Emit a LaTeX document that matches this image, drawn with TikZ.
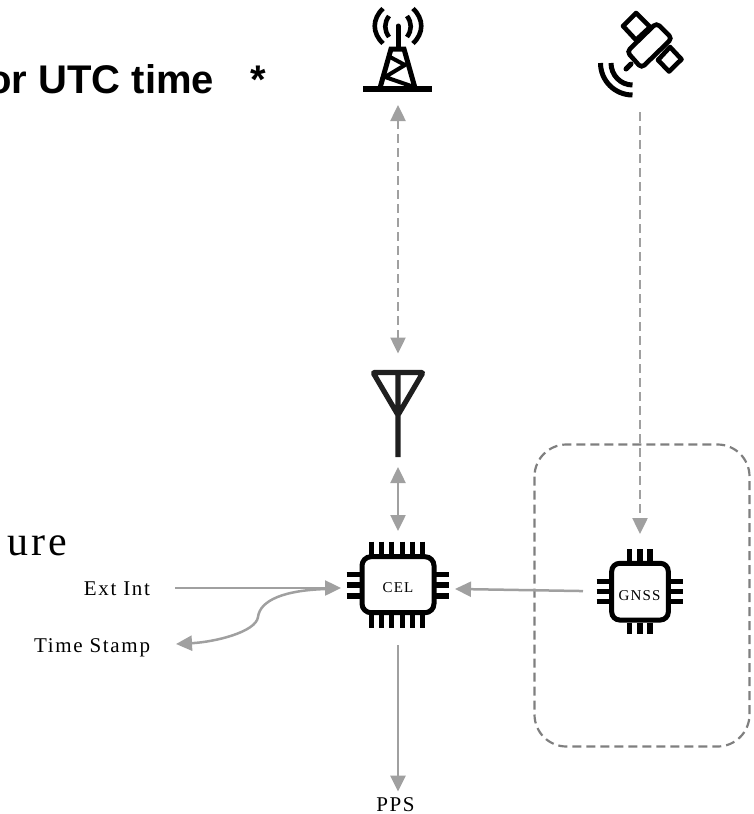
\documentclass[tikz,border=0pt]{standalone}
\usepackage{fontspec}
\setmainfont{Liberation Serif}
\newfontfamily\labelFont[LetterSpace=8]{Liberation Serif}
\newfontfamily\titleFont{Liberation Sans}
\usetikzlibrary{arrows.meta}

\tikzset{
    iconLine/.style={line width=5pt, draw=black},
    pinLine/.style={line width=5.4pt, draw=black},
    linkLine/.style={line width=2.5pt, draw=linkColour, -{Triangle[length=16pt,width=15pt]}},
    bothWays/.style={linkLine, {Triangle[length=16pt,width=15pt]}-{Triangle[length=16pt,width=15pt]}},
    radioLine/.style={dash pattern=on 8.5pt off 5.5pt},
    hotSpot/.style={inner sep=0pt, outer sep=0pt},
    smallLabel/.style={inner sep=0pt, outer sep=0pt, font=\labelFont\fontsize{21}{24}\selectfont},
    chipLabel/.style={inner sep=0pt, outer sep=0pt, font=\labelFont\fontsize{15}{18}\selectfont}
}

\begin{document}
\begin{tikzpicture}[x=1pt, y=-1pt]
    \definecolor{linkColour}{HTML}{A0A0A0}
    \definecolor{boxColour}{HTML}{7F7F7F}

    \useasboundingbox (0,0) rectangle (754,814);
    \clip (0,0) rectangle (754,814);

    % Clipped slide text
    \node[hotSpot, anchor=base east, font=\titleFont\bfseries\fontsize{40}{44}\selectfont] (titleText) at (214,93) {or UTC time};
    \node[hotSpot, anchor=base, font=\titleFont\bfseries\fontsize{40}{44}\selectfont] (starText) at (258.5,93) {*};
    \node[hotSpot, anchor=base west, font=\labelFont\fontsize{42}{46}\selectfont] (ureText) at (7,555) {ure};

    % GNSS module box
    \draw[boxColour, line width=2.2pt, dash pattern=on 9pt off 5pt, rounded corners=32pt] (534.5,444.5) rectangle (749.5,746.5);

    % Tower
    \draw[iconLine, line width=6pt] (363,88.5) -- (432,88.5);
    \draw[iconLine] (380,88) -- (391,49) -- (404,49) -- (415,88);
    \draw[iconLine, line cap=round] (398,26) -- (398,48);
    \draw[iconLine, line width=4pt] (390,57) -- (405,65) -- (385,77) -- (414,87);
    \foreach \side in {-1,1} {
        \draw[iconLine, line width=4.6pt] (398+\side*9,16) .. controls (398+\side*14,23) and (398+\side*14,30) .. (398+\side*9,37);
        \draw[iconLine, line width=4.6pt] (398+\side*15,8.5) .. controls (398+\side*26,19) and (398+\side*26,33) .. (398+\side*15,43.5);
    }
    \node[hotSpot, minimum width=70pt, minimum height=104pt] (towerIcon) at (398,53) {};

    % Satellite
    \draw[iconLine, line width=4.6pt, line join=round] (636,13) -- (650,27) -- (636,40) -- (623,26) -- cycle;
    \draw[iconLine, line width=4.6pt, line join=round] (670,47) -- (681.5,59.3) -- (669,71.5) -- (658,60) -- cycle;
    \draw[iconLine, line width=4.6pt, fill=white, rounded corners=4pt] (656.5,23) -- (672,38.3) -- (641.5,68) -- (627,51.7) -- cycle;
    \draw[iconLine, line cap=round] (631,64) -- (626,69);
    \draw[iconLine] (600.5,63) arc[start angle=180, end angle=90, x radius=32pt, y radius=-32pt];
    \draw[iconLine] (611,63) arc[start angle=180, end angle=90, x radius=21.5pt, y radius=-22pt];
    \node[hotSpot, minimum width=90pt, minimum height=112pt] (satIcon) at (640,56) {};

    % Antenna
    \draw[iconLine, draw=black!88, line width=5.2pt, line join=round, rounded corners=1pt] (398,457) -- (398,372.5) (398,415) -- (423,372.5) -- (373,372.5) -- cycle;
    \node[hotSpot, minimum width=60pt, minimum height=113.5pt] (antennaIcon) at (398,410.25) {};

    % CEL chip
    \draw[iconLine, rounded corners=9pt] (362,556.7) rectangle (434,612.7);
    \foreach \x in {371.7,381.7,391.7,402.3,412.3,422.3} {
        \draw[pinLine] (\x,541.7) -- (\x,554.5);
        \draw[pinLine] (\x,615) -- (\x,628);
    }
    \foreach \y in {574.3,585,596} {
        \draw[pinLine] (346.7,\y) -- (360,\y);
        \draw[pinLine] (436,\y) -- (449,\y);
    }
    \node[hotSpot, chipLabel, minimum width=114pt, minimum height=114pt] (celChip) at (398,588) {CEL};

    % GNSS chip
    \draw[iconLine, rounded corners=8pt] (611.7,563.3) rectangle (668.3,620);
    \foreach \x in {629.3,640,650} {
        \draw[pinLine] (\x,549) -- (\x,561);
        \draw[pinLine] (\x,622.5) -- (\x,634.3);
    }
    \foreach \y in {581.7,591.7,601.7} {
        \draw[pinLine] (596.7,\y) -- (609.5,\y);
        \draw[pinLine] (670.5,\y) -- (683.3,\y);
    }
    \node[hotSpot, minimum width=114pt, minimum height=116pt] (gnssChip) at (640,592) {};
    \node[chipLabel] (gnssText) at (639.5,595.7) {GNSS};

    % Labels
    \node[smallLabel, anchor=base east] (extText) at (150,595) {Ext Int};
    \node[smallLabel, anchor=base east] (stampText) at (150,652) {Time Stamp};
    \node[smallLabel, anchor=base] (ppsText) at (395.5,811.5) {PPS};
    \coordinate (branchPoint) at (327,589);

    % Connectors
    \draw[bothWays, radioLine] (towerIcon) -- (antennaIcon);
    \draw[linkLine, radioLine] (satIcon) -- (gnssChip);
    \draw[bothWays] (antennaIcon) -- (celChip);
    \draw[linkLine, shorten >=6pt] (celChip.south) -- (celChip.south |- ppsText.north);
    \draw[linkLine] (gnssChip) -- (celChip);
    \draw[linkLine, shorten <=25pt] (extText.east |- celChip.west) -- (celChip);
    \draw[linkLine] (branchPoint) .. controls (285,590) and (260,600) .. (258,617) .. controls (256,632) and (215,642) .. (176,644);
\end{tikzpicture}
\end{document}
